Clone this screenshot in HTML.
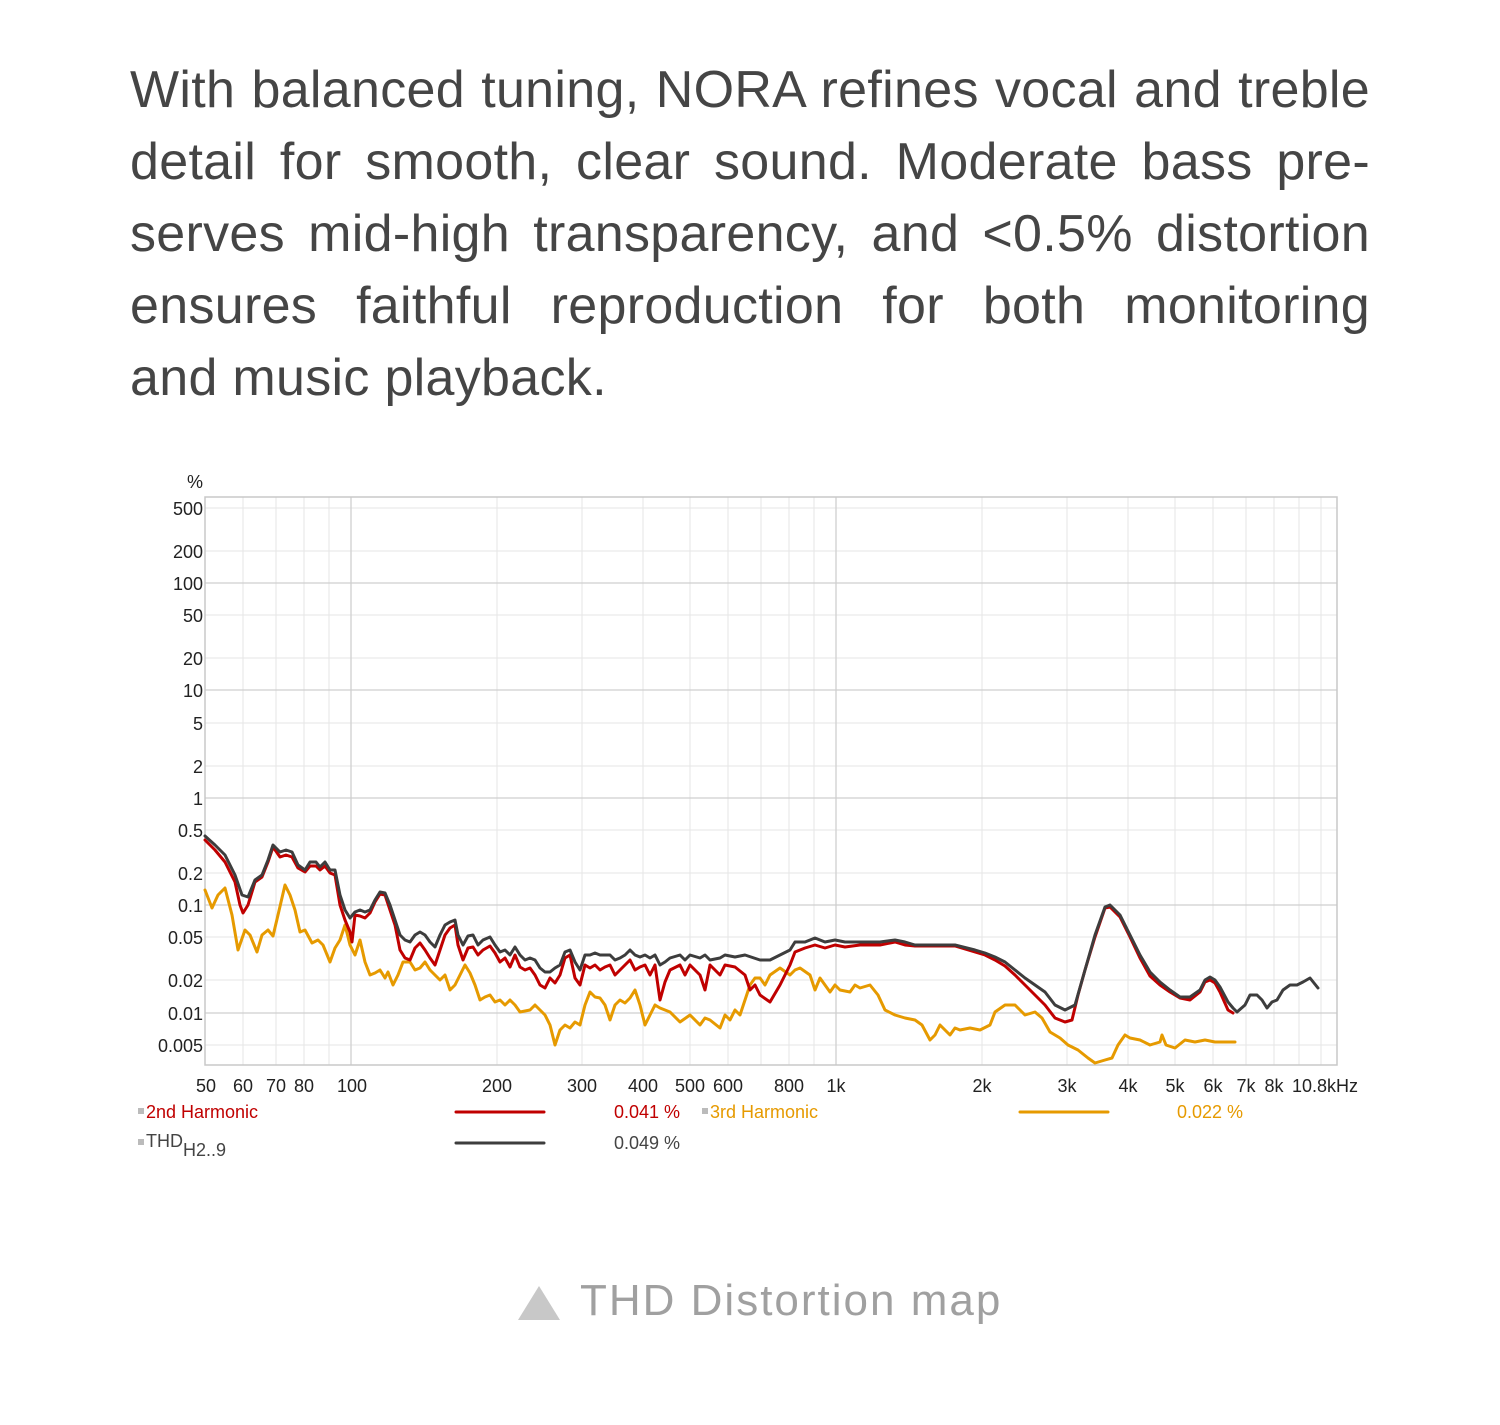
<!DOCTYPE html>
<html><head><meta charset="utf-8"><style>
body{margin:0;background:#fff;width:1500px;height:1425px;overflow:hidden;position:relative;font-family:"Liberation Sans",sans-serif}
.t{position:absolute;left:130px;width:1240px;top:54px;color:#454545;font-size:52px;line-height:72px;letter-spacing:0.3px}
.t div{text-align:justify;text-align-last:justify;white-space:nowrap}
.t div.l{text-align-last:left}
.cap{position:absolute;top:1276px;left:580px;font-size:44px;color:#a0a0a0;letter-spacing:2px}
.tri{position:absolute;left:518px;top:1286px;width:0;height:0;border-left:21px solid transparent;border-right:21px solid transparent;border-bottom:34px solid #c8c8c8}
</style></head><body>
<div class="t">
<div>With balanced tuning, NORA refines vocal and treble</div>
<div>detail for smooth, clear sound. Moderate bass pre-</div>
<div>serves mid-high transparency, and &lt;0.5% distortion</div>
<div>ensures faithful reproduction for both monitoring</div>
<div class="l">and music playback.</div>
</div>
<svg width="1500" height="1425" style="position:absolute;left:0;top:0" font-family="Liberation Sans, sans-serif">
<g stroke="#e6e6e6" stroke-width="1">
<line x1="243" y1="497" x2="243" y2="1065"/><line x1="276" y1="497" x2="276" y2="1065"/><line x1="304" y1="497" x2="304" y2="1065"/><line x1="329" y1="497" x2="329" y2="1065"/>
<line x1="497" y1="497" x2="497" y2="1065"/><line x1="582" y1="497" x2="582" y2="1065"/><line x1="643" y1="497" x2="643" y2="1065"/><line x1="690" y1="497" x2="690" y2="1065"/><line x1="728" y1="497" x2="728" y2="1065"/><line x1="761" y1="497" x2="761" y2="1065"/><line x1="789" y1="497" x2="789" y2="1065"/><line x1="814" y1="497" x2="814" y2="1065"/>
<line x1="982" y1="497" x2="982" y2="1065"/><line x1="1067" y1="497" x2="1067" y2="1065"/><line x1="1128" y1="497" x2="1128" y2="1065"/><line x1="1175" y1="497" x2="1175" y2="1065"/><line x1="1213" y1="497" x2="1213" y2="1065"/><line x1="1246" y1="497" x2="1246" y2="1065"/><line x1="1274" y1="497" x2="1274" y2="1065"/><line x1="1299" y1="497" x2="1299" y2="1065"/><line x1="1321" y1="497" x2="1321" y2="1065"/>
<line x1="205" y1="508" x2="1337" y2="508"/><line x1="205" y1="551" x2="1337" y2="551"/><line x1="205" y1="615" x2="1337" y2="615"/><line x1="205" y1="658" x2="1337" y2="658"/><line x1="205" y1="723" x2="1337" y2="723"/><line x1="205" y1="766" x2="1337" y2="766"/><line x1="205" y1="830" x2="1337" y2="830"/><line x1="205" y1="873" x2="1337" y2="873"/><line x1="205" y1="937" x2="1337" y2="937"/><line x1="205" y1="980" x2="1337" y2="980"/><line x1="205" y1="1045" x2="1337" y2="1045"/>
</g>
<g stroke="#cfcfcf" stroke-width="1.3">
<line x1="351" y1="497" x2="351" y2="1065"/><line x1="836" y1="497" x2="836" y2="1065"/>
<line x1="205" y1="583" x2="1337" y2="583"/><line x1="205" y1="690" x2="1337" y2="690"/><line x1="205" y1="798" x2="1337" y2="798"/><line x1="205" y1="905" x2="1337" y2="905"/><line x1="205" y1="1013" x2="1337" y2="1013"/>
</g>
<rect x="205" y="497" width="1132" height="568" fill="none" stroke="#c8c8c8" stroke-width="1.5"/>
<g font-size="18" fill="#222" text-anchor="end">
<text x="203" y="488">%</text>
<text x="203" y="515">500</text><text x="203" y="558">200</text><text x="203" y="590">100</text><text x="203" y="622">50</text><text x="203" y="665">20</text><text x="203" y="697">10</text><text x="203" y="730">5</text><text x="203" y="773">2</text><text x="203" y="805">1</text><text x="203" y="837">0.5</text><text x="203" y="880">0.2</text><text x="203" y="912">0.1</text><text x="203" y="944">0.05</text><text x="203" y="987">0.02</text><text x="203" y="1020">0.01</text><text x="203" y="1052">0.005</text>
</g>
<g font-size="18" fill="#222" text-anchor="middle">
<text x="206" y="1092">50</text><text x="243" y="1092">60</text><text x="276" y="1092">70</text><text x="304" y="1092">80</text><text x="352" y="1092">100</text><text x="497" y="1092">200</text><text x="582" y="1092">300</text><text x="643" y="1092">400</text><text x="690" y="1092">500</text><text x="728" y="1092">600</text><text x="789" y="1092">800</text><text x="836" y="1092">1k</text><text x="982" y="1092">2k</text><text x="1067" y="1092">3k</text><text x="1128" y="1092">4k</text><text x="1175" y="1092">5k</text><text x="1213" y="1092">6k</text><text x="1246" y="1092">7k</text><text x="1274" y="1092">8k</text><text x="1325" y="1092">10.8kHz</text>
</g>
<g fill="none" stroke-width="3" stroke-linejoin="round" stroke-linecap="round">
<polyline stroke="#e69a00" points="205,890 212,908 218,895 225,888 232,915 238,950 245,930 250,935 257,952 262,935 268,930 273,936 278,915 285,885 290,895 295,910 300,932 305,930 312,943 318,940 323,945 330,962 335,948 340,940 345,925 350,945 355,955 360,940 365,962 370,975 375,973 380,970 385,978 388,972 393,985 398,975 403,962 410,962 415,970 420,968 425,962 430,970 435,975 440,980 445,975 450,990 455,985 460,975 465,965 470,973 475,985 480,1000 485,997 490,995 495,1002 500,1000 505,1005 510,1000 515,1005 520,1012 530,1010 535,1005 540,1010 545,1015 550,1025 555,1045 560,1030 565,1025 570,1028 575,1022 580,1025 585,1005 590,992 595,997 600,998 605,1005 610,1020 615,1005 620,1000 625,1003 630,998 635,990 640,1005 645,1025 650,1015 655,1005 660,1008 670,1012 680,1022 690,1015 700,1025 705,1018 710,1020 720,1028 725,1015 730,1020 735,1010 740,1015 745,1000 750,985 755,978 760,978 765,985 770,975 780,968 790,975 795,970 800,968 810,975 815,990 820,978 825,985 830,992 835,985 840,990 850,992 855,985 860,988 870,985 878,995 885,1010 895,1015 905,1018 915,1020 922,1025 930,1040 935,1035 940,1025 945,1030 950,1035 955,1028 960,1030 970,1028 980,1030 990,1025 995,1012 1005,1005 1015,1005 1020,1010 1025,1015 1035,1012 1042,1018 1050,1032 1060,1038 1068,1045 1078,1050 1088,1058 1095,1063 1105,1060 1112,1058 1118,1045 1125,1035 1130,1038 1140,1040 1150,1045 1160,1042 1162,1035 1166,1045 1175,1048 1185,1040 1195,1042 1205,1040 1215,1042 1225,1042 1235,1042"/>
<polyline stroke="#c00000" points="205,840 215,850 225,862 235,882 240,905 243,913 248,905 255,882 262,877 268,862 273,847 280,857 286,855 292,857 298,868 305,872 310,866 316,866 320,870 325,866 330,873 335,875 340,905 345,920 350,932 352,942 355,915 360,916 365,918 370,913 375,902 380,894 385,895 390,910 395,925 400,950 405,958 410,960 415,948 420,943 425,950 430,958 435,965 440,950 445,935 450,928 455,925 458,945 463,960 468,948 473,947 478,955 483,950 490,946 495,953 500,962 505,958 510,967 515,955 520,967 525,970 530,968 535,975 540,985 545,988 550,978 555,983 560,975 565,958 570,955 575,978 580,985 585,965 590,968 595,965 600,970 605,967 610,965 615,975 620,970 625,965 630,960 635,970 640,967 645,965 650,975 655,965 660,1000 665,982 670,970 680,965 685,975 690,965 700,975 705,990 710,965 720,975 725,965 735,967 745,975 750,990 755,985 760,995 770,1002 780,985 790,965 795,952 805,948 815,945 825,948 835,945 845,947 860,945 880,945 895,942 905,945 915,946 935,946 955,946 975,952 985,955 995,960 1005,966 1015,975 1025,985 1035,995 1045,1005 1055,1018 1065,1022 1072,1020 1078,995 1085,970 1095,937 1105,908 1110,907 1120,917 1130,937 1140,958 1150,976 1160,985 1170,992 1180,998 1190,1000 1200,992 1205,982 1210,980 1215,983 1220,992 1228,1010 1233,1013"/>
<polyline stroke="#3d3d3d" points="205,836 215,845 225,855 235,875 242,895 248,897 255,880 262,875 268,860 273,845 280,852 286,850 292,852 298,865 305,870 310,862 316,862 320,867 325,862 330,870 335,870 340,895 345,910 350,918 355,912 360,910 365,912 370,910 375,900 380,892 385,893 390,905 395,920 400,935 405,940 410,942 415,935 420,932 425,935 430,942 435,947 440,935 445,925 450,922 455,920 458,935 463,945 468,936 473,935 478,945 483,940 490,937 495,945 500,952 505,950 510,955 515,947 520,955 525,960 530,958 535,960 540,968 545,972 550,972 555,968 560,965 565,952 570,950 575,962 580,970 585,955 590,955 595,953 600,955 605,955 610,955 615,960 620,958 625,955 630,950 635,955 640,957 645,955 650,958 655,955 660,965 665,962 670,958 680,955 685,960 690,955 700,958 705,955 710,960 720,958 725,955 735,957 745,955 760,960 770,960 780,955 790,950 795,942 805,942 815,938 825,942 835,940 845,942 860,942 880,942 895,940 905,942 915,945 935,945 955,945 975,950 985,953 995,957 1005,962 1015,970 1025,978 1035,985 1045,992 1055,1005 1065,1010 1075,1005 1085,970 1095,935 1105,907 1110,905 1120,915 1130,935 1140,955 1150,972 1160,982 1170,990 1180,997 1190,997 1200,990 1205,980 1210,977 1215,980 1220,987 1228,1002 1233,1008 1237,1012 1245,1005 1250,995 1257,995 1262,1000 1267,1008 1272,1002 1277,1000 1283,990 1290,985 1297,985 1303,982 1310,978 1318,988"/>
<line x1="456" y1="1112" x2="544" y2="1112" stroke="#c00000"/>
<line x1="1020" y1="1112" x2="1108" y2="1112" stroke="#e69a00"/>
<line x1="456" y1="1143" x2="544" y2="1143" stroke="#3d3d3d"/>
</g>
<g font-size="18">
<rect x="138" y="1108" width="6" height="6" fill="#bbb"/><rect x="702" y="1108" width="6" height="6" fill="#bbb"/><rect x="138" y="1139" width="6" height="6" fill="#bbb"/>
<text x="146" y="1118" fill="#c00000">2nd Harmonic</text>
<text x="614" y="1118" fill="#c00000">0.041 %</text>
<text x="710" y="1118" fill="#e69a00">3rd Harmonic</text>
<text x="1177" y="1118" fill="#e69a00">0.022 %</text>
<text x="146" y="1147" fill="#444">THD<tspan font-size="18" dy="9">H2..9</tspan></text>
<text x="614" y="1149" fill="#444">0.049 %</text>
</g>
</svg>
<div class="tri"></div>
<div class="cap">THD Distortion map</div>
</body></html>
